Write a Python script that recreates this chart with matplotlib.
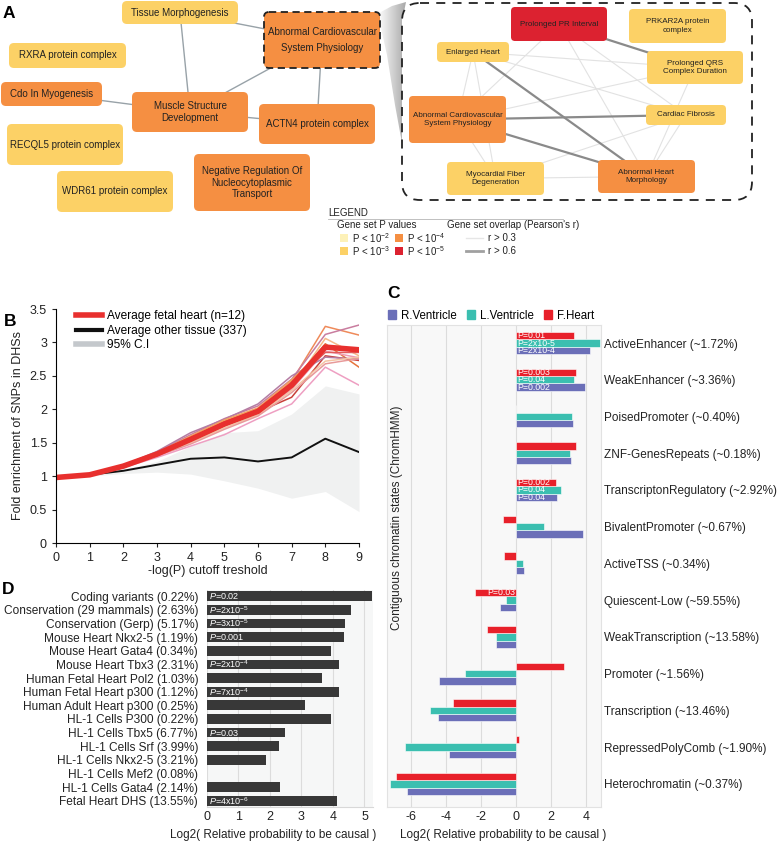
import numpy as np
import matplotlib.pyplot as plt
from matplotlib.patches import FancyBboxPatch, Rectangle, Polygon, Patch
from matplotlib.lines import Line2D
from matplotlib.colors import LinearSegmentedColormap

plt.rcParams['font.family'] = ['Liberation Sans', 'DejaVu Sans']
plt.rcParams['mathtext.fontset'] = 'custom'
plt.rcParams['mathtext.rm'] = 'Liberation Sans'
plt.rcParams['mathtext.it'] = 'Liberation Sans:italic'
plt.rcParams['mathtext.bf'] = 'Liberation Sans:bold'
plt.rcParams['axes.unicode_minus'] = False

# ---------------- data ----------------
# Panel A: gene set network (P value class = exponent of 10)
net_labels = ['Tissue Morphogenesis', 'Abnormal Cardiovascular\nSystem Physiology',
              'RXRA protein complex', 'Cdo In Myogenesis', 'Muscle Structure\nDevelopment',
              'ACTN4 protein complex', 'RECQL5 protein complex', 'WDR61 protein complex',
              'Negative Regulation Of\nNucleocytoplasmic\nTransport']
net_plevel = [3, 4, 3, 4, 4, 4, 3, 3, 4]
net_edges = [(0, 4), (0, 1), (4, 1), (1, 5), (3, 4), (4, 5)]

zoom_labels = ['Prolonged PR Interval', 'PRKAR2A protein\ncomplex', 'Enlarged Heart',
               'Prolonged QRS\nComplex Duration', 'Abnormal Cardiovascular\nSystem Physiology',
               'Cardiac Fibrosis', 'Myocardial Fiber\nDegeneration', 'Abnormal Heart\nMorphology']
zoom_plevel = [5, 3, 3, 3, 4, 3, 3, 4]
zoom_edges_strong = [(0, 3), (2, 7), (4, 5), (4, 7)]
zoom_edges_weak = [(2, 3), (2, 5), (0, 4), (0, 7), (0, 5), (4, 3), (6, 5), (6, 7),
                   (2, 4), (2, 6), (3, 7), (5, 7), (4, 6)]

# Panel B: fold enrichment vs -log(P) cutoff
x_cut = [0, 1, 2, 3, 4, 5, 6, 7, 8, 9]
fetal_mean = [0.98, 1.02, 1.15, 1.33, 1.55, 1.78, 1.97, 2.36, 2.93, 2.89]
other_mean = [0.98, 1.02, 1.08, 1.17, 1.26, 1.28, 1.22, 1.28, 1.56, 1.36]
ci_lo = [0.98, 1.00, 1.04, 1.06, 1.03, 0.93, 0.82, 0.67, 0.77, 0.47]
ci_hi = [0.98, 1.04, 1.10, 1.22, 1.45, 1.65, 1.68, 1.93, 2.35, 2.23]
fetal_1 = [0.98, 1.02, 1.15, 1.34, 1.58, 1.82, 2.00, 2.42, 3.24, 3.11]
fetal_2 = [0.98, 1.02, 1.16, 1.36, 1.62, 1.86, 2.05, 2.45, 3.12, 3.26]
fetal_3 = [0.98, 1.02, 1.14, 1.31, 1.52, 1.75, 1.95, 2.33, 3.06, 2.80]
fetal_4 = [0.98, 1.02, 1.15, 1.33, 1.56, 1.80, 1.98, 2.38, 2.98, 2.63]
fetal_5 = [0.98, 1.02, 1.15, 1.32, 1.53, 1.76, 1.94, 2.30, 2.87, 2.77]
fetal_6 = [0.98, 1.02, 1.14, 1.33, 1.55, 1.79, 1.96, 2.18, 2.80, 2.73]
fetal_7 = [0.98, 1.02, 1.16, 1.37, 1.65, 1.85, 2.08, 2.50, 2.78, 2.75]
fetal_8 = [0.98, 1.02, 1.15, 1.32, 1.50, 1.72, 1.92, 2.28, 2.72, 2.78]
fetal_9 = [0.98, 1.02, 1.14, 1.30, 1.48, 1.70, 1.90, 2.25, 2.68, 2.76]
fetal_10 = [0.98, 1.02, 1.13, 1.28, 1.45, 1.62, 1.86, 2.08, 2.63, 2.36]
fetal_11 = [0.98, 1.02, 1.15, 1.34, 1.57, 1.80, 1.99, 2.40, 2.85, 2.85]
fetal_12 = [0.98, 1.02, 1.16, 1.35, 1.60, 1.84, 2.02, 2.44, 2.92, 2.92]
fetal_lines = [fetal_1, fetal_2, fetal_3, fetal_4, fetal_5, fetal_6,
               fetal_7, fetal_8, fetal_9, fetal_10, fetal_11, fetal_12]

# Panel C: chromatin states
states = ['ActiveEnhancer (~1.72%)', 'WeakEnhancer (~3.36%)', 'PoisedPromoter (~0.40%)',
          'ZNF-GenesRepeats (~0.18%)', 'TranscriptonRegulatory (~2.92%)',
          'BivalentPromoter (~0.67%)', 'ActiveTSS (~0.34%)', 'Quiescent-Low (~59.55%)',
          'WeakTranscription (~13.58%)', 'Promoter (~1.56%)', 'Transcription (~13.46%)',
          'RepressedPolyComb (~1.90%)', 'Heterochromatin (~0.37%)']
r_ventricle = [4.25, 3.94, 3.25, 3.15, 2.36, 3.83, 0.47, -0.93, -1.16, -4.40, -4.45, -3.85, -6.27]
l_ventricle = [4.78, 3.30, 3.20, 3.06, 2.55, 1.58, 0.42, -0.58, -1.14, -2.91, -4.95, -6.37, -7.23]
f_heart = [3.34, 3.40, 0.0, 3.43, 2.30, -0.78, -0.69, -2.37, -1.66, 2.73, -3.63, 0.15, -6.88]
r_pvals = ['P=2x10-4', 'P=0.002', '', '', 'P=0.04', '', '', '', '', '', '', '', '']
l_pvals = ['P=2x10-5', 'P=0.04', '', '', 'P=0.04', '', '', '', '', '', '', '', '']
f_pvals = ['P=0.01', 'P=0.003', '', '', 'P=0.002', '', '', 'P=0.03', '', '', '', '', '']

# Panel D: functional annotations
annots = ['Coding variants (0.22%)', 'Conservation (29 mammals) (2.63%)',
          'Conservation (Gerp) (5.17%)', 'Mouse Heart Nkx2-5 (1.19%)',
          'Mouse Heart Gata4 (0.34%)', 'Mouse Heart Tbx3 (2.31%)',
          'Human Fetal Heart Pol2 (1.03%)', 'Human Fetal Heart p300 (1.12%)',
          'Human Adult Heart p300 (0.25%)', 'HL-1 Cells P300 (0.22%)',
          'HL-1 Cells Tbx5 (6.77%)', 'HL-1 Cells Srf (3.99%)', 'HL-1 Cells Nkx2-5 (3.21%)',
          'HL-1 Cells Mef2 (0.08%)', 'HL-1 Cells Gata4 (2.14%)', 'Fetal Heart DHS (13.55%)']
annot_vals = [5.23, 4.58, 4.37, 4.34, 3.95, 4.19, 3.66, 4.18, 3.13, 3.93,
              2.49, 2.28, 1.87, 0.0, 2.32, 4.13]
annot_p = ['$P$=0.02', '$P$=2x10$^{-5}$', '$P$=3x10$^{-5}$', '$P$=0.001', '', '$P$=2x10$^{-4}$',
           '', '$P$=7x10$^{-4}$', '', '', '$P$=0.03', '', '', '', '', '$P$=4x10$^{-6}$']

# ---------------- figure ----------------
W, H = 780, 842
fig = plt.figure(figsize=(W / 100, H / 100), dpi=100)

pcolors = {2: '#fdf1b8', 3: '#fcd166', 4: '#f58f42', 5: '#dc2230'}

# Panel A drawn in pixel coordinates on a full-figure axes
axA = fig.add_axes([0, 0, 1, 1])
axA.axis('off')

net_boxes = [(122, 1, 238, 24), (264, 12, 380, 68), (9, 43, 126, 68), (1, 82, 102, 106),
             (132, 92, 248, 132), (259, 104, 375, 144), (7, 124, 123, 165),
             (57, 171, 173, 212), (194, 154, 310, 211)]
zoom_boxes = [(511, 7, 607, 41), (629, 9, 726, 43), (437, 42, 509, 62), (647, 51, 743, 84),
              (409, 96, 506, 143), (646, 105, 726, 125), (447, 162, 544, 195),
              (598, 160, 695, 193)]


def center(b):
    return ((b[0] + b[2]) / 2, (b[1] + b[3]) / 2)


# zoom cone
cone = Polygon([(379, 13), (392, 6), (406, 2), (402, 22), (402, 143), (395, 105),
                (387, 55), (381, 28)], closed=True, fc='none', ec='none')
axA.add_patch(cone)
grad = np.linspace(0, 1, 60).reshape(1, -1)
im = axA.imshow(grad, extent=[378, 406, 145, 1], aspect='auto', zorder=1,
                cmap=LinearSegmentedColormap.from_list('g', ['#ffffff', '#a9a9a9']))
im.set_clip_path(cone)

# dashed zoom frame
axA.add_patch(FancyBboxPatch((402, 3), 350, 197, boxstyle='round,pad=0,rounding_size=18',
                             fc='white', ec='#222222', lw=1.3, ls=(0, (5, 4)), zorder=2))
axA.set_xlim(0, W)
axA.set_ylim(H, 0)

for a, b in net_edges:
    (x1, y1), (x2, y2) = center(net_boxes[a]), center(net_boxes[b])
    axA.plot([x1, x2], [y1, y2], color='#98a2a8', lw=1.0, zorder=2)
for a, b in zoom_edges_weak:
    (x1, y1), (x2, y2) = center(zoom_boxes[a]), center(zoom_boxes[b])
    axA.plot([x1, x2], [y1, y2], color='#e2e2e2', lw=0.8, zorder=3)
for a, b in zoom_edges_strong:
    (x1, y1), (x2, y2) = center(zoom_boxes[a]), center(zoom_boxes[b])
    axA.plot([x1, x2], [y1, y2], color='#8a8a8a', lw=1.6, zorder=3)

for i, (lab, lev, b) in enumerate(zip(net_labels, net_plevel, net_boxes)):
    ec, ls, lw = ('#222222', (0, (4, 2.5)), 1.3) if i == 1 else ('none', '-', 0)
    axA.add_patch(FancyBboxPatch((b[0], b[1]), b[2] - b[0], b[3] - b[1],
                                 boxstyle='round,pad=0,rounding_size=5', fc=pcolors[lev],
                                 ec=ec, ls=ls, lw=lw, zorder=4))
    cx, cy = center(b)
    axA.text(cx, cy, lab, ha='center', va='center', fontsize=7, color='#222222',
             linespacing=1.75 if i == 1 else 1.2, zorder=5)

for lab, lev, b in zip(zoom_labels, zoom_plevel, zoom_boxes):
    axA.add_patch(FancyBboxPatch((b[0], b[1]), b[2] - b[0], b[3] - b[1],
                                 boxstyle='round,pad=0,rounding_size=4', fc=pcolors[lev],
                                 ec='none', zorder=4))
    cx, cy = center(b)
    axA.text(cx, cy, lab, ha='center', va='center', fontsize=5.8, color='#222222',
             linespacing=1.3, zorder=5)

# legend of panel A
axA.text(328, 213, 'LEGEND', fontsize=7, va='center', color='#222222')
axA.plot([328, 563], [219, 219], color='#b5b5b5', lw=0.6)
axA.text(337, 225, 'Gene set P values', fontsize=7, va='center', color='#222222')
axA.text(447, 225, "Gene set overlap (Pearson's r)", fontsize=7, va='center', color='#222222')
leg_sq = [(340, 238, 2), (395, 238, 4), (340, 251, 3), (395, 251, 5)]
for sx, sy, lev in leg_sq:
    axA.add_patch(Rectangle((sx, sy - 4), 8, 8, fc=pcolors[lev], ec='none'))
    axA.text(sx + 12, sy, 'P < 10$^{-%d}$' % lev, fontsize=7, va='center', color='#222222')
axA.plot([466, 483], [238, 238], color='#e6e6e6', lw=1.0)
axA.plot([466, 483], [251, 251], color='#a0a0a0', lw=2.0)
axA.text(488, 238, 'r > 0.3', fontsize=7, va='center', color='#222222')
axA.text(488, 251, 'r > 0.6', fontsize=7, va='center', color='#222222')

# panel letters
for letter, lx, ly in [('A', 3, 13), ('B', 4, 322), ('C', 387, 293), ('D', 2, 589)]:
    axA.text(lx, ly, letter, fontsize=12.5, fontweight='bold', va='center', ha='left')

# ---------------- Panel B ----------------
axB = fig.add_axes([56 / W, 1 - 543 / H, (359 - 56) / W, (543 - 309) / H])
line_colors = ['#ef8a5a', '#c97d9f', '#f6b98a', '#e6743c', '#f09bb2', '#c9403a',
               '#b47ca3', '#f4c4a4', '#e89a9a', '#ee9fc2', '#e15b5b', '#f3a25f']
axB.fill_between(x_cut, ci_lo, ci_hi, color='#f0f1f1', lw=0)
for vals, c in zip(fetal_lines, line_colors):
    axB.plot(x_cut, vals, color=c, lw=1.1)
axB.plot(x_cut, other_mean, color='#111111', lw=1.4)
axB.plot(x_cut, fetal_mean, color='#e8302e', lw=4, solid_capstyle='round')
axB.set_xlim(0, 9)
axB.set_ylim(0, 3.5)
axB.set_xticks(x_cut)
axB.set_yticks([0, 0.5, 1, 1.5, 2, 2.5, 3, 3.5])
axB.set_yticklabels(['0', '0.5', '1', '1.5', '2', '2.5', '3', '3.5'])
axB.spines['top'].set_visible(False)
axB.spines['right'].set_visible(False)
axB.tick_params(labelsize=9, length=3, width=0.8, colors='#222222')
axB.set_xlabel('-log(P) cutoff treshold', fontsize=9, labelpad=1, color='#222222')
axB.set_ylabel('Fold enrichment of SNPs in DHSs', fontsize=9, labelpad=4, color='#222222')
handles = [Line2D([], [], color='#e8302e', lw=4),
           Line2D([], [], color='#111111', lw=3),
           Line2D([], [], color='#c4c8cc', lw=4)]
axB.legend(handles, ['Average fetal heart (n=12)', 'Average other tissue (337)', '95% C.I'],
           loc='upper left', bbox_to_anchor=(0.03, 1.04), frameon=False, fontsize=8.6,
           handlelength=2.2, handletextpad=0.45, labelspacing=0.2)

# ---------------- Panel C ----------------
axC = fig.add_axes([387 / W, 1 - 807 / H, (601 - 387) / W, (807 - 325) / H])
c_r, c_l, c_f = '#6b6fb8', '#3bbfb0', '#e8202a'
yc = np.arange(len(states))
axC.set_facecolor('#f8f8f8')
axC.barh(yc + 0.2, r_ventricle, height=0.2, color=c_r, ec='white', lw=0.4, zorder=3)
axC.barh(yc, l_ventricle, height=0.2, color=c_l, ec='white', lw=0.4, zorder=3)
axC.barh(yc - 0.2, f_heart, height=0.2, color=c_f, ec='white', lw=0.4, zorder=3)
for offs, labs, vals in [(0.2, r_pvals, r_ventricle), (0.0, l_pvals, l_ventricle),
                         (-0.2, f_pvals, f_heart)]:
    for i, (t, v) in enumerate(zip(labs, vals)):
        if t:
            if v >= 0:
                axC.text(0.05, i + offs, t, color='white', fontsize=6.3, va='center',
                         ha='left', zorder=4)
            else:
                axC.text(-0.05, i + offs, t, color='white', fontsize=6.3, va='center',
                         ha='right', zorder=4)
axC.set_xlim(-7.4, 4.86)
axC.set_ylim(12.63, -0.49)
axC.set_xticks([-6, -4, -2, 0, 2, 4])
axC.grid(axis='x', color='#dcdcdc', lw=0.8, zorder=0)
axC.set_axisbelow(True)
axC.yaxis.tick_right()
axC.set_yticks(yc)
axC.set_yticklabels(states)
axC.tick_params(axis='y', length=0, pad=2, labelsize=8.5, colors='#222222')
axC.tick_params(axis='x', length=0, pad=3, labelsize=9, colors='#222222')
for s in axC.spines.values():
    s.set_color('#e2e2e2')
    s.set_linewidth(0.8)
axC.set_xlabel('Log2( Relative probability to be causal )', fontsize=8.5, labelpad=2,
               color='#222222')
axC.xaxis.set_label_coords(0.542, -0.045)
axC.text(0.047, 0.6, 'Contiguous chromatin states (ChromHMM)', transform=axC.transAxes,
         rotation=90, ha='center', va='center', fontsize=8.5, color='#222222')
c_handles = [Patch(color=c_r), Patch(color=c_l), Patch(color=c_f)]
axC.legend(c_handles, ['R.Ventricle', 'L.Ventricle', 'F.Heart'], loc='lower left',
           bbox_to_anchor=(-0.01, 1.0), ncol=3, frameon=False, fontsize=8.3,
           handlelength=0.7, handleheight=0.7, handletextpad=0.4, columnspacing=0.9,
           borderaxespad=0.1, borderpad=0.2)

# ---------------- Panel D ----------------
axD = fig.add_axes([206.5 / W, 1 - 807 / H, (373 - 206.5) / W, (807 - 590) / H])
yd = np.arange(len(annots))
axD.set_facecolor('#f6f7f7')
axD.barh(yd, annot_vals, height=0.72, color='#383838', zorder=3)
for i, t in enumerate(annot_p):
    if t:
        axD.text(0.08, i, t, color='white', fontsize=6.5, va='center', ha='left', zorder=4)
axD.set_xlim(0, 5.27)
axD.set_ylim(15.46, -0.46)
axD.set_xticks([0, 1, 2, 3, 4, 5])
axD.grid(axis='x', color='#dcdcdc', lw=0.8, zorder=0)
axD.set_axisbelow(True)
axD.set_yticks(yd)
axD.set_yticklabels(annots)
axD.tick_params(axis='y', length=0, pad=6, labelsize=8.6, colors='#222222')
axD.tick_params(axis='x', length=0, pad=3, labelsize=9, colors='#222222')
for s in axD.spines.values():
    s.set_visible(False)
axD.spines['bottom'].set_visible(True)
axD.spines['bottom'].set_color('#d8d8d8')
axD.set_xlabel('Log2( Relative probability to be causal )', fontsize=8.5, labelpad=2,
               color='#222222')
axD.xaxis.set_label_coords(0.40, -0.1)

fig.savefig('out.png', dpi=100)
